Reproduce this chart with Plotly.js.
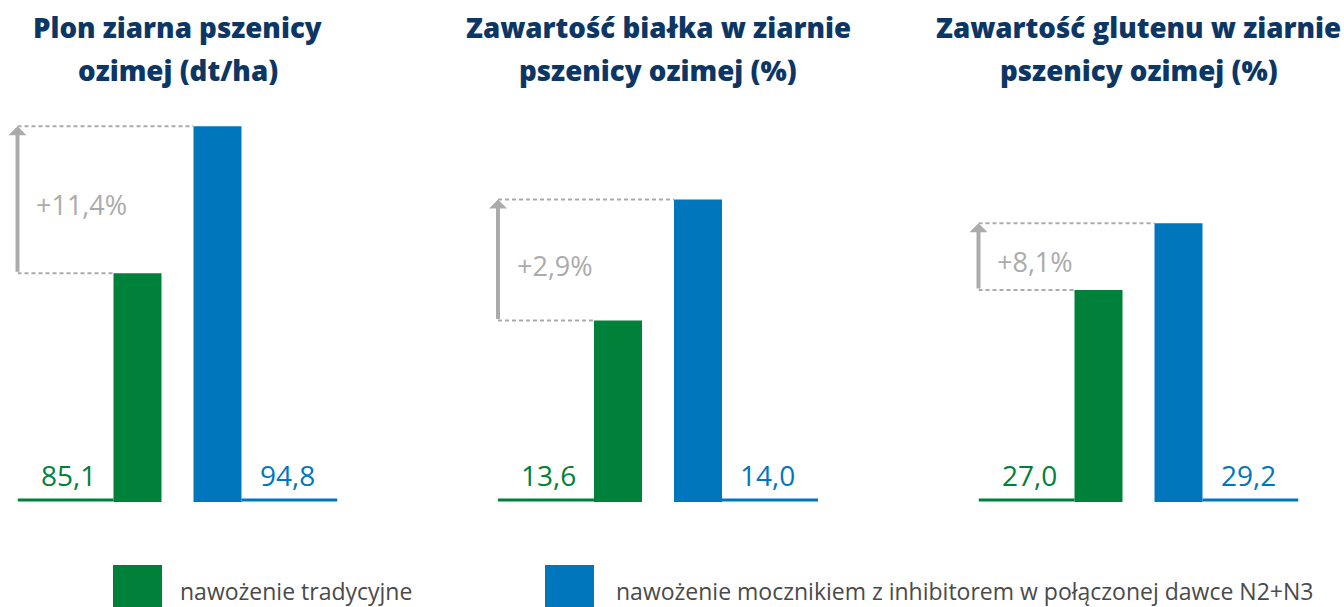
<!DOCTYPE html>
<html>
<head>
<meta charset="utf-8">
<script src="https://cdn.plot.ly/plotly-3.0.1.min.js"></script>
<style>html,body{margin:0;padding:0;background:#fff;}#chart{width:1344px;height:607px;}</style>
</head>
<body>
<div id="chart"></div>
<script>
// ---- data ----
const seriesNames = ['nawożenie tradycyjne', 'nawożenie mocznikiem z inhibitorem w połączonej dawce N2+N3'];
const panelTitles = ['Plon ziarna pszenicy<br>ozimej (dt/ha)', 'Zawartość białka w ziarnie<br>pszenicy ozimej (%)', 'Zawartość glutenu w ziarnie<br>pszenicy ozimej (%)'];
const traditional = [85.1, 13.6, 27.0];
const inhibitor = [94.8, 14.0, 29.2];
const increaseLabels = ['+11,4%', '+2,9%', '+8,1%'];

// ---- style ----
const W = 1344, H = 607;
const M = {l: 0, r: 0, t: 100, b: 105};
const GREEN = '#00813a', BLUE = '#0077bd', NAVY = '#0c3765', GRAY = '#ababab', TEXT = '#4a4a4a';
const FONT = 'Open Sans, Noto Sans, sans-serif';
const yRanges = [[70, 96.53], [13, 14.329], [20, 33.27]];
const panelLeft = [17.5, 498, 978.5];
const panelWidth = 320;
const BW = 0.6;

const plotH = H - M.t - M.b;
const px2x = p => (p - M.l) / (W - M.l - M.r);
const py2y = p => (H - M.b - p) / plotH;
const fmt = v => v.toFixed(1).replace('.', ',');

const traces = [];
const shapes = [];
const annotations = [];
const layout = {
  width: W, height: H, margin: M, showlegend: false,
  paper_bgcolor: '#fff', plot_bgcolor: '#fff',
  font: {family: FONT}
};

for (let i = 0; i < 3; i++) {
  const sfx = i === 0 ? '' : String(i + 1);
  const xa = 'x' + sfx, ya = 'y' + sfx;
  const base = yRanges[i][0];
  layout['xaxis' + sfx] = {domain: [px2x(panelLeft[i]), px2x(panelLeft[i] + panelWidth)], range: [-1.5, 2.5],
    showgrid: false, zeroline: false, showticklabels: false, showline: false, fixedrange: true, anchor: ya};
  layout['yaxis' + sfx] = {domain: [0, 1], range: yRanges[i], showgrid: false, zeroline: false,
    showticklabels: false, showline: false, fixedrange: true, anchor: xa};

  traces.push({type: 'bar', x: [0], y: [traditional[i]], width: BW, marker: {color: GREEN}, xaxis: xa, yaxis: ya,
    name: seriesNames[0], hoverinfo: 'skip'});
  traces.push({type: 'bar', x: [1], y: [inhibitor[i]], width: BW, marker: {color: BLUE}, xaxis: xa, yaxis: ya,
    name: seriesNames[1], hoverinfo: 'skip'});

  // baselines
  shapes.push({type: 'line', xref: xa, yref: ya, x0: -1.5, x1: -BW / 2, ysizemode: 'pixel', yanchor: base, y0: 2, y1: 2,
    line: {color: GREEN, width: 3}});
  shapes.push({type: 'line', xref: xa, yref: ya, x0: 1 + BW / 2, x1: 2.5, ysizemode: 'pixel', yanchor: base, y0: 2, y1: 2,
    line: {color: BLUE, width: 3}});
  // dashed guides
  shapes.push({type: 'line', xref: xa, yref: ya, x0: -1.5, x1: 1 - BW / 2, y0: inhibitor[i], y1: inhibitor[i],
    line: {color: GRAY, width: 2, dash: '4px,3px'}});
  shapes.push({type: 'line', xref: xa, yref: ya, x0: -1.5, x1: -BW / 2, y0: traditional[i], y1: traditional[i],
    line: {color: GRAY, width: 2, dash: '4px,3px'}});

  // arrow
  annotations.push({xref: xa, yref: ya, x: -1.5, y: inhibitor[i], axref: xa, ayref: ya, ax: -1.5, ay: traditional[i],
    text: '', showarrow: true, arrowhead: 1, arrowsize: 0.75, arrowwidth: 4, arrowcolor: GRAY, standoff: 0});
  // increase label
  annotations.push({xref: xa, yref: ya, x: -1.29, y: (traditional[i] + inhibitor[i]) / 2, xanchor: 'left', yanchor: 'middle',
    yshift: -5, text: increaseLabels[i], showarrow: false, font: {family: FONT, size: 27, color: GRAY, weight: 500}});
  // value labels
  annotations.push({xref: xa, yref: ya, x: -0.5, y: base, xanchor: 'right', yanchor: 'middle', yshift: 27,
    text: fmt(traditional[i]), showarrow: false, font: {family: FONT, size: 28, color: GREEN, weight: 500}});
  annotations.push({xref: xa, yref: ya, x: 1.5, y: base, xanchor: 'left', yanchor: 'middle', yshift: 27,
    text: fmt(inhibitor[i]), showarrow: false, font: {family: FONT, size: 28, color: BLUE, weight: 500}});

  // titles (one annotation per line)
  const lines = panelTitles[i].split('<br>');
  const lineY = [27, 70];
  lines.forEach((t, k) => {
    annotations.push({xref: 'paper', yref: 'paper', x: px2x(panelLeft[i] + panelWidth / 2), y: py2y(lineY[k]),
      xanchor: 'center', yanchor: 'middle', text: t, showarrow: false,
      font: {family: FONT, size: 27.7, color: NAVY, weight: 800}});
  });
}

// legend
const legendSq = [[113, 162, GREEN], [545, 594, BLUE]];
const legendTextX = [178, 614];
legendSq.forEach((s, k) => {
  shapes.push({type: 'rect', xref: 'paper', yref: 'paper', x0: px2x(s[0]), x1: px2x(s[1]), y0: py2y(565), y1: py2y(620),
    fillcolor: s[2], line: {width: 0}});
  annotations.push({xref: 'paper', yref: 'paper', x: px2x(legendTextX[k]), y: py2y(591), xanchor: 'left', yanchor: 'middle',
    text: seriesNames[k], showarrow: false, font: {family: FONT, size: 23, color: TEXT}});
});

layout.shapes = shapes;
layout.annotations = annotations;
Plotly.newPlot('chart', traces, layout, {staticPlot: true, displayModeBar: false});
</script>
</body>
</html>
